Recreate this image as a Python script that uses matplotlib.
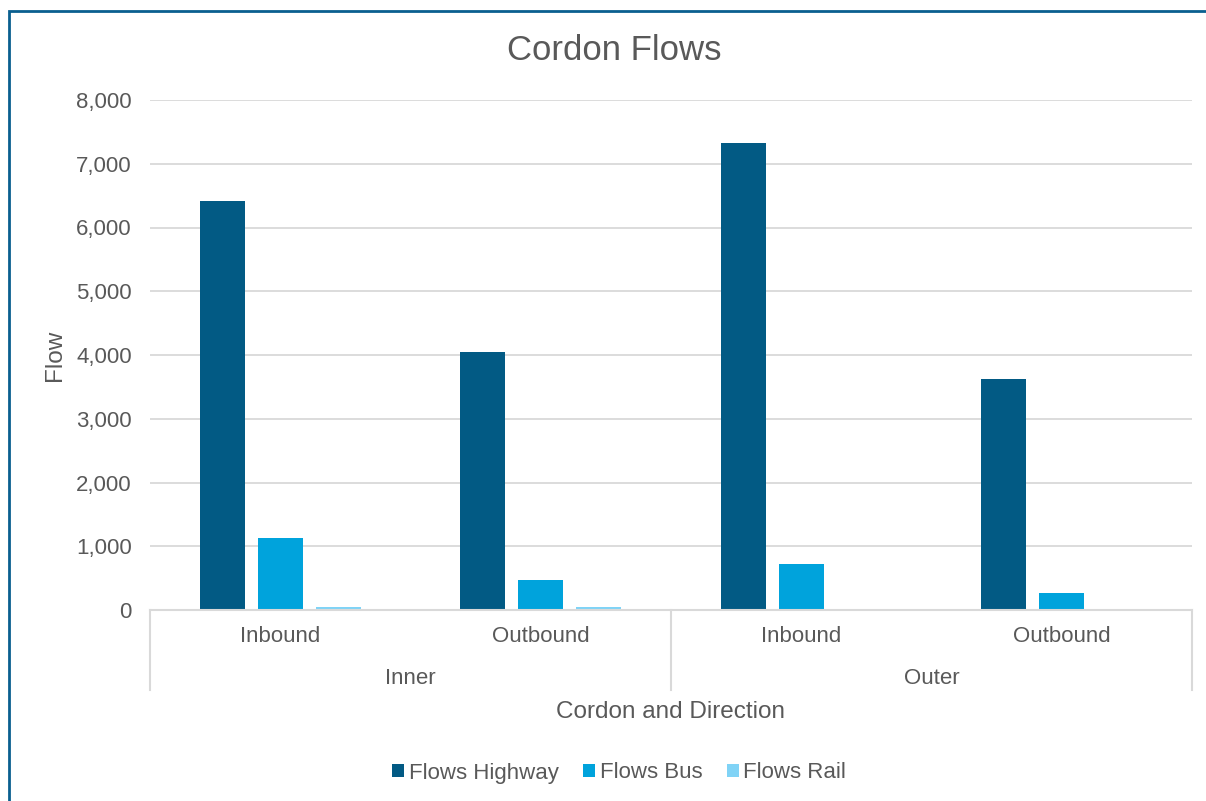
import matplotlib.pyplot as plt
from matplotlib.patches import Rectangle
from matplotlib.ticker import FuncFormatter
import numpy as np

plt.rcParams['font.family'] = ['Liberation Sans', 'DejaVu Sans']

# data
cordons = ['Inner', 'Outer']
directions = ['Inbound', 'Outbound', 'Inbound', 'Outbound']
highway = [6410, 4050, 7325, 3625]
bus = [1125, 470, 715, 270]
rail = [45, 45, 0, 0]
series_names = ['Flows Highway', 'Flows Bus', 'Flows Rail']
colors = ['#025a84', '#00a3dc', '#80d3f6']

grey = '#595959'

fig = plt.figure(figsize=(12.06, 8.01), dpi=100)
W, H = 1206, 801
ax = fig.add_axes([150 / W, 1 - 610 / H, (1192 - 150) / W, (610 - 100) / H])

x = np.arange(len(directions))
width = 0.173
step = 0.223
for i, (vals, name, c) in enumerate(zip([highway, bus, rail], series_names, colors)):
    ax.bar(x + (i - 1) * step, vals, width, color=c, label=name, zorder=3)

ax.set_xlim(-0.5, len(directions) - 0.5)
ax.set_ylim(0, 8000)
ax.set_yticks(range(0, 8001, 1000))
ax.yaxis.set_major_formatter(FuncFormatter(lambda v, p: '{:,.0f}'.format(v)))
ax.grid(axis='y', color='#d9d9d9', linewidth=1.3, zorder=0)
for s in ax.spines.values():
    s.set_visible(False)
ax.tick_params(axis='y', length=0, pad=13, labelsize=16, labelcolor=grey)
ax.set_xticks([])

# multi level category axis
trans = ax.get_xaxis_transform()
for xi, d in zip(x, directions):
    ax.text(xi, -27 / 510, d, transform=trans, ha='center', va='center',
            fontsize=16, color=grey)
for j, cname in enumerate(cordons):
    ax.text(2 * j + 0.5, -68 / 510, cname, transform=trans, ha='center',
            va='center', fontsize=16, color=grey)
for b in [-0.5, 1.5, 3.5]:
    ax.plot([b, b], [0, -80 / 510], transform=trans, color='#d9d9d9',
            linewidth=1.5, clip_on=False)
ax.plot([-0.5, 3.5], [0, 0], transform=trans, color='#d9d9d9',
        linewidth=1.5, clip_on=False, zorder=4)

fig.text(671 / W, 1 - 712 / H, 'Cordon and Direction', ha='center', va='center',
         fontsize=17.5, color=grey)
fig.text(55 / W, 1 - 355 / H, 'Flow', ha='center', va='center', rotation=90,
         fontsize=17.5, color=grey)
fig.text(614 / W, 1 - 50 / H, 'Cordon Flows', ha='center', va='center',
         fontsize=25, color=grey)

leg = fig.legend(loc='center', bbox_to_anchor=(619 / W, 1 - 773 / H), ncol=3,
                 frameon=False, fontsize=16, handlelength=0.55, handleheight=0.55,
                 handletextpad=0.2, columnspacing=1.1)
for t in leg.get_texts():
    t.set_color(grey)

# outer frame
fig.patches.append(Rectangle((9 / W, -0.1), 1.2, 1 - 11 / H + 0.1,
                             transform=fig.transFigure, fill=False,
                             edgecolor='#0a5f8f', linewidth=2))

plt.savefig('out.png', dpi=100)
